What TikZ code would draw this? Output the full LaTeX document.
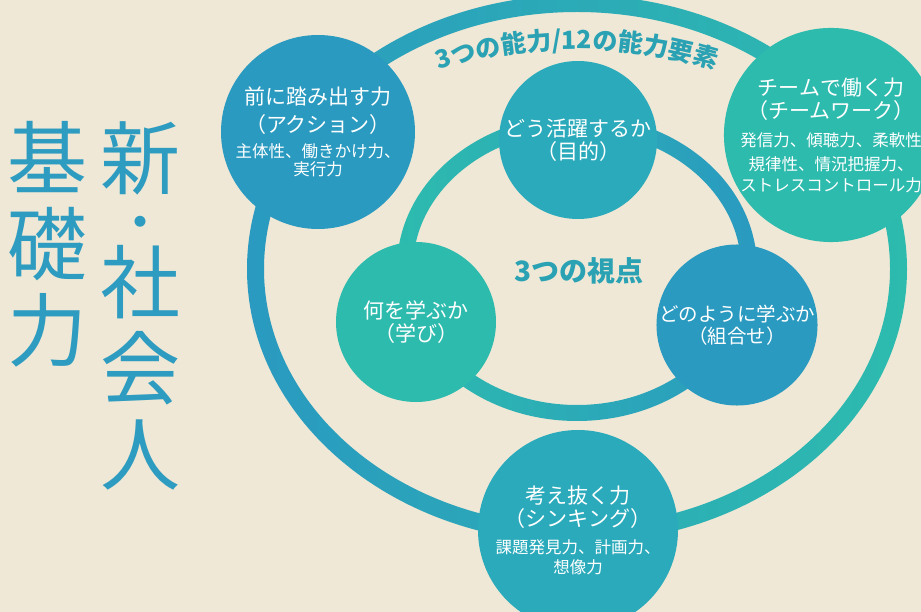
\documentclass[tikz,border=0pt]{standalone}
\usepackage{fontspec}
\setmainfont{Noto Sans CJK JP}
\usetikzlibrary{decorations.text}

\definecolor{paper}{HTML}{EFE8D6}
\definecolor{deepblue}{HTML}{2A9AC0}
\definecolor{midteal}{HTML}{2AAABB}
\definecolor{seagreen}{HTML}{2DBBAE}
\definecolor{titleblue}{HTML}{2E9CC0}
\definecolor{labelteal}{HTML}{2AA2B4}

\newcommand{\headtxt}{\fontsize{21}{23}\selectfont}
\newcommand{\itemtxt}{\fontsize{16.5}{23}\selectfont}

\begin{document}
\begin{tikzpicture}[x=1pt,y=1pt,
  ability node/.style={circle,inner sep=0pt,text=white,align=center,font=\headtxt},
  view node/.style={circle,inner sep=0pt,text=white,align=center,font=\headtxt,minimum size=158pt},
  title/.style={text=titleblue,font=\fontsize{80}{86}\selectfont,align=center,inner sep=0pt,anchor=north}]

  \useasboundingbox (0,0) rectangle (921,-612);
  \fill[paper] (0,0) rectangle (921,-612);

  % rings
  \shade[left color=deepblue,right color=seagreen,even odd rule]
    (577,-269) ellipse [x radius=330,y radius=274]
    (577,-269) ellipse [x radius=313,y radius=257];
  \shade[left color=seagreen,right color=deepblue,even odd rule]
    (577,-268) ellipse [x radius=180,y radius=153]
    (577,-268) ellipse [x radius=164,y radius=137];

  \path[decorate,decoration={text along path,text align=center,
      text={|\bfseries\fontsize{25}{25}\selectfont\color{labelteal}|3つの能力/12の能力要素}}]
    ([shift={(125:325 and 220)}]577,-269) arc [start angle=125,end angle=55,x radius=325,y radius=220];

  \node[title] (basic) at (47,-121) {基\\礎\\力};
  \node[title] (newsoc) at (140,-121) {新\\[-33pt]{\fontsize{52}{52}\selectfont ・}\\[-15pt]社\\会\\人};

  \node[ability node,fill=deepblue,minimum size=194pt] (action) at (318,-132)
    {前に踏み出す力\\[5pt]（アクション）\\[2pt]\itemtxt 主体性、働きかけ力、\\[-5pt]\itemtxt 実行力};
  \node[ability node,fill=seagreen,minimum size=192pt] (team) at (831,-135)
    {チームで働く力\\（チームワーク）\\[5pt]\itemtxt 発信力、傾聴力、柔軟性\\[1pt]\itemtxt 規律性、情況把握力、\\[-2pt]\itemtxt ストレスコントロール力};
  \node[ability node,fill=midteal,minimum size=200pt] (think) at (578,-530)
    {考え抜く力\\（シンキング）\\[4pt]\itemtxt 課題発見力、計画力、\\[-3pt]\itemtxt 想像力};

  \node[view node,fill=midteal] (purpose) at (578,-140) {どう活躍するか\\（目的）};
  \node[view node,fill=seagreen,minimum size=160pt] (learn) at (416,-322) {何を学ぶか\\（学び）};
  \node[view node,fill=deepblue,font=\fontsize{19.5}{22}\selectfont] (combine) at (737,-325) {どのように学ぶか\\（組合せ）};

  \node[text=labelteal,font=\bfseries\fontsize{28}{28}\selectfont] (views) at (579,-271) {3つの視点};
\end{tikzpicture}
\end{document}
